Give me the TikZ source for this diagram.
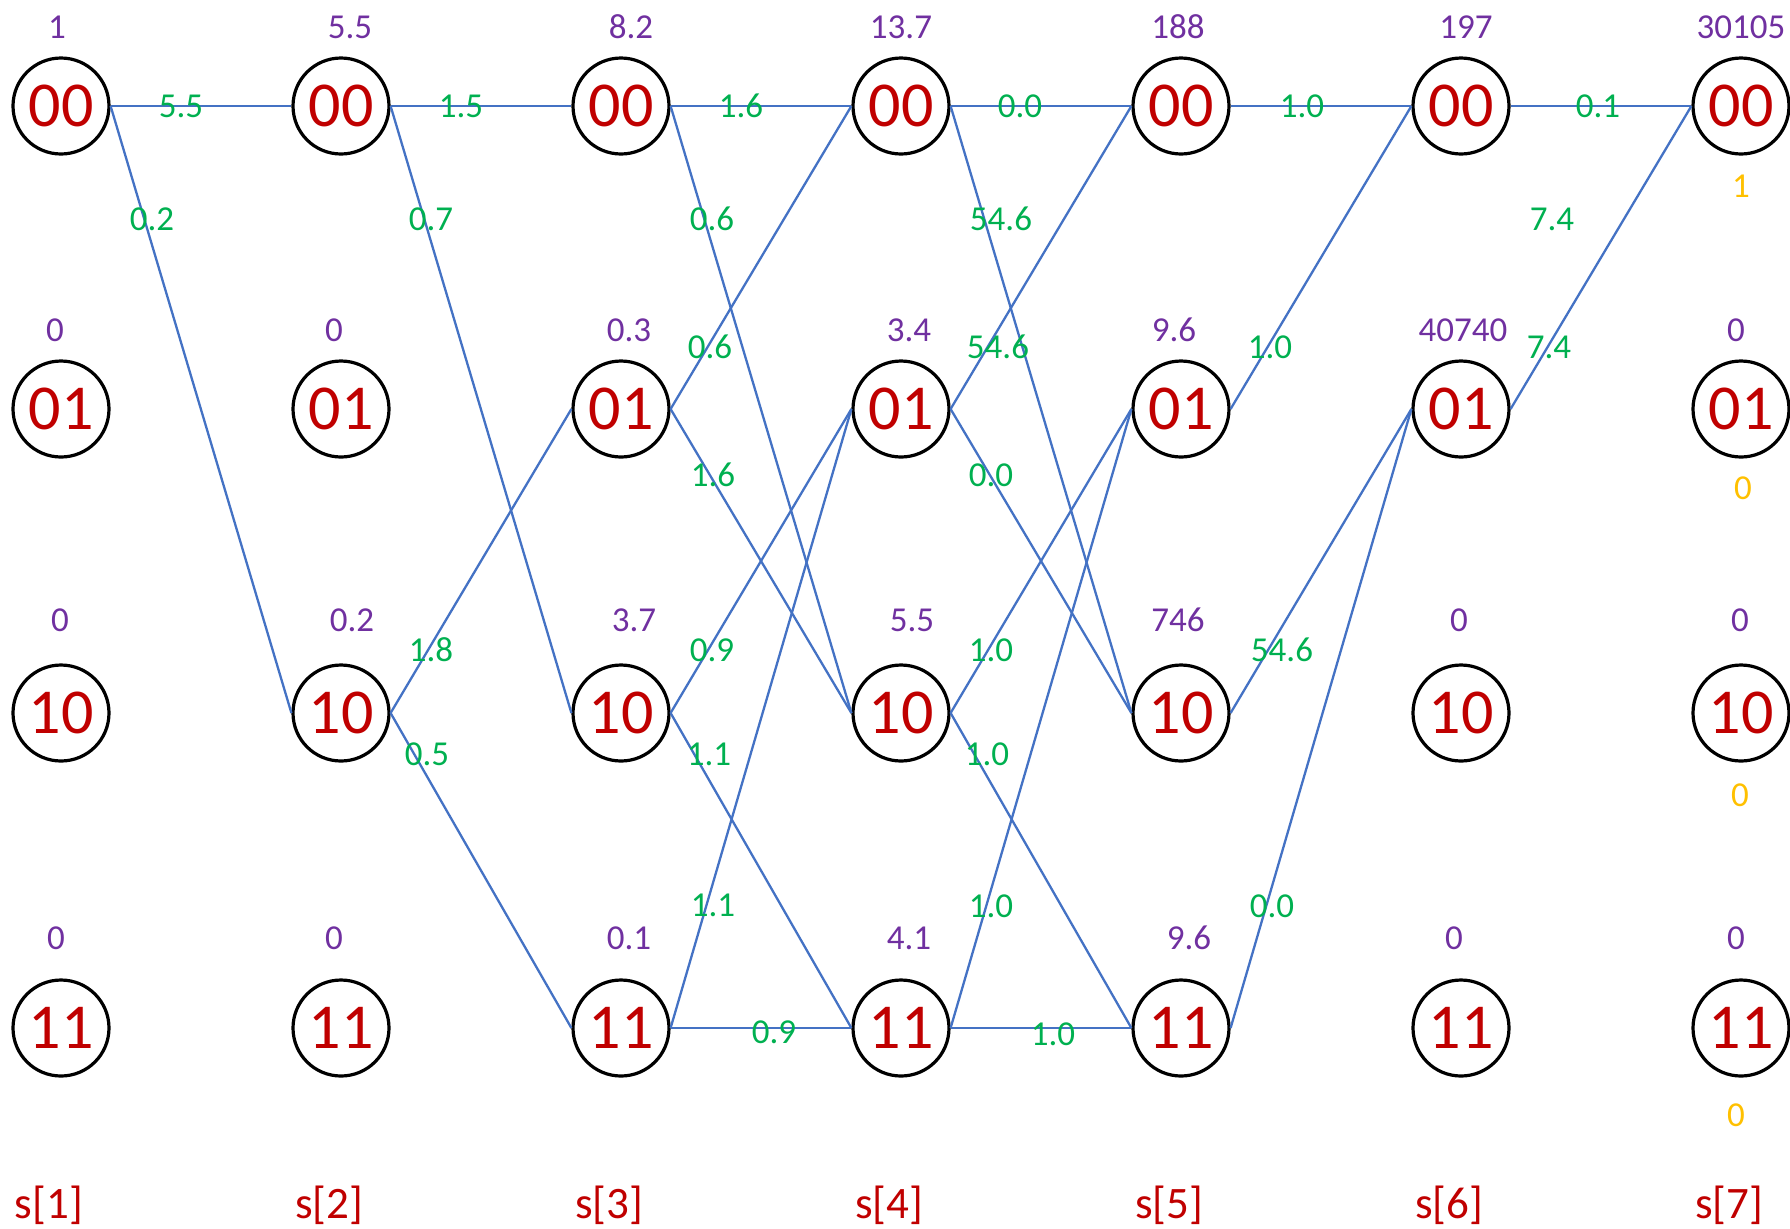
\documentclass[tikz,border=0pt]{standalone}
\usepackage{fontspec}
\setmainfont{Carlito}
\definecolor{statered}{HTML}{C00000}
\definecolor{metricpurple}{HTML}{7030A0}
\definecolor{branchgreen}{HTML}{00B050}
\definecolor{edgeblue}{HTML}{4472C4}
\definecolor{endgold}{HTML}{FFC000}
\tikzset{
  state/.style={circle,draw,line width=1.6pt,minimum size=48pt,inner sep=0pt,text=statered,font=\fontsize{32}{32}\selectfont},
  metric/.style={text=metricpurple,font=\fontsize{17.5}{17.5}\selectfont},
  branch/.style={text=branchgreen,font=\fontsize{17.5}{17.5}\selectfont},
  final/.style={text=endgold,font=\fontsize{17.5}{17.5}\selectfont},
  stage/.style={text=statered,font=\fontsize{22.5}{22.5}\selectfont},
  trans/.style={draw=edgeblue,line width=1.15pt}
}
\begin{document}
\begin{tikzpicture}[x=0.5pt,y=-0.5pt]
\useasboundingbox (0,0) rectangle (1790,1228);
% states of every stage
\foreach \col in {1,...,7}
  \foreach \st/\y in {00/106,01/409,10/713,11/1028}
    \node[state] (s\col-\st) at ({61+280*(\col-1)},\y) {\st};
% transitions
\foreach \col/\a/\b [evaluate=\col as \nxt using int(\col+1)] in {1/00/00,1/00/10,
    2/00/00,2/00/10,2/10/01,2/10/11,
    3/00/00,3/00/10,3/01/00,3/01/10,3/10/01,3/10/11,3/11/01,3/11/11,
    4/00/00,4/00/10,4/01/00,4/01/10,4/10/01,4/10/11,4/11/01,4/11/11,
    5/00/00,5/01/00,5/10/01,5/11/01,
    6/00/00,6/01/00}
  \draw[trans] (s\col-\a.east) -- (s\nxt-\b.west);
% branch weights
\foreach \x/\y/\w [count=\i] in {181/106/5.5,152/219/0.2,
    461/106/1.5,431/219/0.7,431/650/1.8,427/754/0.5,
    741/106/1.6,712/219/0.6,710/347/0.6,713/475/1.6,712/650/0.9,709/754/1.1,713/905/1.1,774/1032/0.9,
    1020/106/0.0,1001/219/54.6,998/347/54.6,991/475/0.0,991/650/1.0,987/754/1.0,991/906/1.0,1053/1034/1.0,
    1302/106/1.0,1270/347/1.0,1282/650/54.6,1272/906/0.0,
    1598/106/0.1,1552/219/7.4,1549/347/7.4}
  \node[branch] (w\i) at (\x,\y) {\w};
% path metrics
\foreach \x/\y/\m [count=\i] in {57/27/1,350/27/5.5,631/27/8.2,901/27/13.7,1178/27/188,1466/27/197,1741/27/30105,
    55/330/0,334/330/0,629/330/0.3,909/330/3.4,1174/330/9.6,1463/330/40740,1736/330/0,
    60/620/0,352/620/0.2,634/620/3.7,912/620/5.5,1178/620/746,1459/620/0,1740/620/0,
    56/938/0,334/938/0,629/938/0.1,909/938/4.1,1189/938/9.6,1454/938/0,1736/938/0}
  \node[metric] (m\i) at (\x,\y) {\m};
% decisions at the last stage
\foreach \x/\y/\d [count=\i] in {1741/186/1,1743/488/0,1740/795/0,1736/1115/0}
  \node[final] (d\i) at (\x,\y) {\d};
% stage names
\foreach \col in {1,...,7}
  \node[stage] (t\col) at ({49+280*(\col-1)},1205) {s[\col]};
\end{tikzpicture}
\end{document}
